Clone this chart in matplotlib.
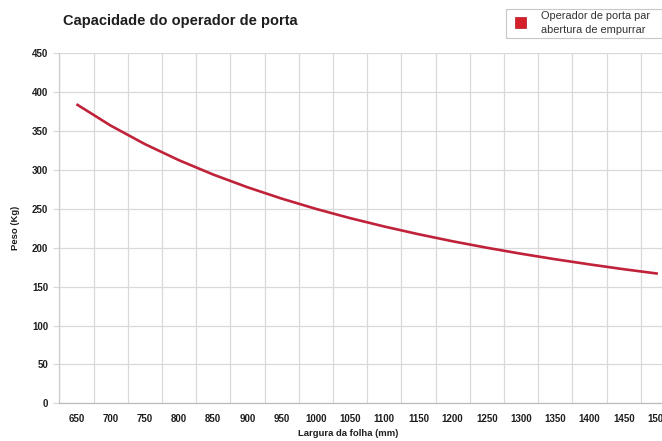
import numpy as np
import matplotlib
matplotlib.use("Agg")
import matplotlib.pyplot as plt
from matplotlib.patches import Rectangle

# =========================================================
# Data
# =========================================================

largura = [650, 700, 750, 800, 850, 900, 950, 1000, 1050,
           1100, 1150, 1200, 1250, 1300, 1350, 1400, 1450, 1500]

peso = [384.6, 357.1, 333.3, 312.5, 294.1, 277.8, 263.2, 250.0, 238.1,
        227.3, 217.4, 208.3, 200.0, 192.3, 185.2, 178.6, 172.4, 166.7]

y_ticks = [0, 50, 100, 150, 200, 250, 300, 350, 400, 450]

title = "Capacidade do operador de porta"
legend_lines = ["Operador de porta par", "abertura de empurrar"]

# =========================================================
# Figure
# =========================================================

plt.rcParams["font.family"] = ["Liberation Sans", "DejaVu Sans"]

W, H = 662, 441
fig = plt.figure(figsize=(W / 100, H / 100), dpi=100)


def fx(px):
    return px / W


def fy(py):
    return 1 - py / H


left, right = fx(59.3), fx(675)
top, bottom = fy(53.3), fy(403.3)
ax = fig.add_axes([left, bottom, right - left, top - bottom])

line_color = "#c0223a"
grid_color = "#d9d9d9"
text_color = "#1e1e1e"

ax.plot(largura, peso, color=line_color, linewidth=1.9,
        solid_joinstyle="round", solid_capstyle="butt", zorder=3)

ax.set_xlim(625, 1525)
ax.set_ylim(0, 450)

# category-like x axis: labels centred between grid lines
ax.set_xticks(largura)
ax.set_xticklabels([str(v) for v in largura])
ax.set_xticks(np.arange(625, 1526, 50), minor=True)
ax.set_yticks(y_ticks)

ax.grid(True, which="minor", axis="x", color=grid_color, linewidth=0.9)
ax.grid(True, which="major", axis="y", color=grid_color, linewidth=0.9)

ax.tick_params(axis="x", which="major", length=0, pad=8,
               labelsize=7, colors=text_color)
ax.tick_params(axis="x", which="minor", length=0)
ax.tick_params(axis="y", length=4, width=0.9, color=grid_color, pad=4,
               labelsize=7, colors=text_color)
for lab in ax.get_xticklabels() + ax.get_yticklabels():
    lab.set_fontweight("bold")

for side in ["top", "right"]:
    ax.spines[side].set_visible(False)
ax.spines["left"].set_color("#cccccc")
ax.spines["bottom"].set_color("#bbbbbb")
ax.spines["left"].set_linewidth(0.9)
ax.spines["bottom"].set_linewidth(0.9)

# =========================================================
# Texts
# =========================================================

fig.text(fx(63), fy(21), title, fontsize=10.5, fontweight="bold",
         color=text_color, ha="left", va="center")

fig.text(fx(348), fy(433), "Largura da folha (mm)", fontsize=6.8,
         fontweight="bold", color=text_color, ha="center", va="center")

fig.text(fx(15), fy(228), "Peso (Kg)", fontsize=6.8,
         fontweight="bold", color=text_color, ha="center", va="center",
         rotation=90)

# =========================================================
# Legend (drawn by hand to match the boxed layout)
# =========================================================

fig.patches.append(Rectangle((fx(506), fy(37.5)), fx(661.5) - fx(506),
                             fy(9) - fy(37.5), transform=fig.transFigure,
                             facecolor="white", edgecolor="#c8c8c8",
                             linewidth=0.8))
fig.patches.append(Rectangle((fx(515), fy(27.5)), fx(525.5) - fx(515),
                             fy(17) - fy(27.5), transform=fig.transFigure,
                             facecolor="#d71f2b", edgecolor="#b01822",
                             linewidth=0.5))
for i, txt in enumerate(legend_lines):
    fig.text(fx(541), fy(16 + 14 * i), txt, fontsize=7.9, color="#333333",
             ha="left", va="center")

fig.savefig("out.png", dpi=100)
plt.close(fig)
